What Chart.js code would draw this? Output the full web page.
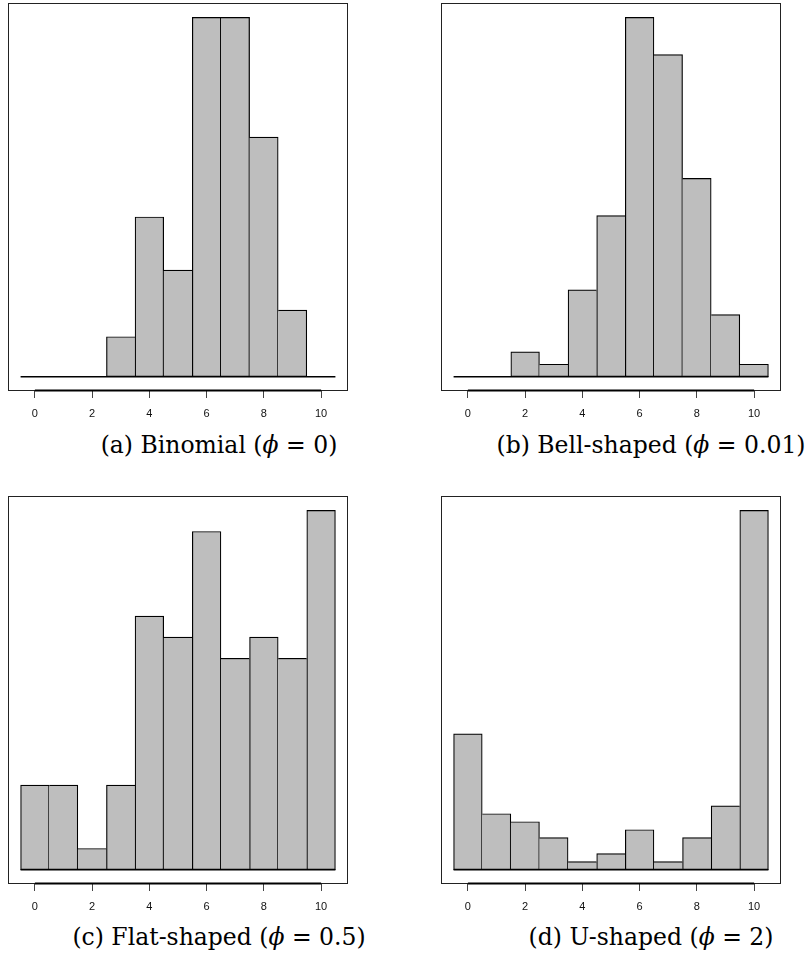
<!DOCTYPE html>
<html>
<head>
<meta charset="utf-8">
<script src="https://cdn.jsdelivr.net/npm/chart.js@4.4.1/dist/chart.umd.min.js"></script>
<style>
  body { margin: 0; background: #fff; }
  #page { position: relative; width: 806px; height: 960px; overflow: hidden; }
  .panel { position: absolute; width: 360px; height: 430px; }
  .caption {
    position: absolute;
    font-family: 'DejaVu Serif', 'Liberation Serif', serif;
    font-size: 23.5px;
    line-height: 1;
    color: #000;
    white-space: nowrap;
    transform: translateX(-50%);
  }
</style>
</head>
<body>
<div id="page">
  <div class="panel" style="left:0;top:0"><canvas id="histA"></canvas></div>
  <div class="panel" style="left:433px;top:0"><canvas id="histB"></canvas></div>
  <div class="panel" style="left:0;top:493px"><canvas id="histC"></canvas></div>
  <div class="panel" style="left:433px;top:493px"><canvas id="histD"></canvas></div>
  <div class="caption" id="capA" style="left:219px;top:434px"></div>
  <div class="caption" id="capB" style="left:651px;top:434px"></div>
  <div class="caption" id="capC" style="left:219px;top:926px"></div>
  <div class="caption" id="capD" style="left:651px;top:926px"></div>
</div>
<script>
// number of successes out of 10, one bin per outcome
const outcomes = [0, 1, 2, 3, 4, 5, 6, 7, 8, 9, 10];

// counts out of 100 draws for each dispersion setting
const binomialCounts = [0, 0, 0, 3, 12, 8, 27, 27, 18, 5, 0];
const bellCounts = [0, 0, 2, 1, 7, 13, 29, 26, 16, 5, 1];
const flatCounts = [4, 4, 1, 4, 12, 11, 16, 10, 11, 10, 17];
const uShapedCounts = [17, 7, 6, 4, 1, 2, 5, 1, 4, 8, 45];

const xTicks = [0, 2, 4, 6, 8, 10];

const captionLabels = ['(a) Binomial', '(b) Bell-shaped', '(c) Flat-shaped', '(d) U-shaped'];
const phiValues = ['0', '0.01', '0.5', '2'];

const BAR_FILL = '#bebebe';
const INK = '#000';

// frame around the plot region plus an R-style axis line between the end ticks
const framePlugin = {
  id: 'frame',
  afterDraw(chart) {
    const { ctx, chartArea } = chart;
    const x = chart.scales.x;
    ctx.save();
    ctx.strokeStyle = '#222';
    ctx.lineWidth = 1;
    ctx.strokeRect(chartArea.left + 0.5, chartArea.top + 0.5,
      chartArea.right - chartArea.left - 1, chartArea.bottom - chartArea.top - 1);
    ctx.strokeStyle = INK;
    ctx.lineWidth = 2;
    ctx.beginPath();
    ctx.moveTo(x.getPixelForValue(xTicks[0]), chartArea.bottom - 0.5);
    ctx.lineTo(x.getPixelForValue(xTicks[xTicks.length - 1]), chartArea.bottom - 0.5);
    ctx.stroke();
    ctx.restore();
  },
};

function makeHistogram(canvasId, counts) {
  const lo = outcomes[0] - 0.5;
  const hi = outcomes[outcomes.length - 1] + 0.5;
  const xPad = 0.04 * (hi - lo);
  const yMax = Math.max(...counts);

  // shared edges are drawn once, by the taller of the two neighbours
  const edges = (ctx) => {
    const i = ctx.dataIndex;
    return {
      top: 1.2,
      bottom: 1.2,
      left: i === 0 || counts[i] > counts[i - 1] ? 1.2 : 0,
      right: i === counts.length - 1 || counts[i] >= counts[i + 1] ? 1.2 : 0,
    };
  };

  return new Chart(document.getElementById(canvasId), {
    type: 'bar',
    data: {
      datasets: [
        {
          type: 'line',
          data: [{ x: lo, y: 0 }, { x: hi, y: 0 }],
          borderColor: INK,
          borderWidth: 1.5,
          pointRadius: 0,
          order: 0,
        },
        {
          data: outcomes.map((k, i) => ({ x: k, y: counts[i] })),
          backgroundColor: BAR_FILL,
          borderColor: INK,
          borderWidth: edges,
          borderSkipped: false,
          barPercentage: 1,
          categoryPercentage: 1,
          order: 1,
        },
      ],
    },
    options: {
      responsive: true,
      maintainAspectRatio: false,
      animation: false,
      layout: { padding: { left: 8, top: 3, right: 12, bottom: 0 } },
      plugins: { legend: { display: false }, tooltip: { enabled: false } },
      scales: {
        x: {
          type: 'linear',
          offset: false,
          min: lo - xPad,
          max: hi + xPad,
          afterBuildTicks: (scale) => {
            scale.ticks = xTicks.map((v) => ({ value: v }));
          },
          afterFit: (scale) => {
            scale.height = 39;
          },
          border: { display: false },
          grid: {
            offset: false,
            drawOnChartArea: false,
            drawTicks: true,
            tickLength: 7,
            color: '#444',
            lineWidth: 1,
          },
          ticks: {
            padding: 9,
            autoSkip: false,
            maxRotation: 0,
            color: '#111',
            font: { family: "'Liberation Sans Narrow', 'Liberation Sans', Arial, sans-serif", size: 11 },
          },
        },
        y: {
          display: false,
          min: -0.04 * yMax,
          max: 1.04 * yMax,
        },
      },
    },
    plugins: [framePlugin],
  });
}

makeHistogram('histA', binomialCounts);
makeHistogram('histB', bellCounts);
makeHistogram('histC', flatCounts);
makeHistogram('histD', uShapedCounts);

['capA', 'capB', 'capC', 'capD'].forEach((id, i) => {
  document.getElementById(id).innerHTML =
    `${captionLabels[i]} (<i>ϕ</i> = ${phiValues[i]})`;
});
</script>
</body>
</html>
